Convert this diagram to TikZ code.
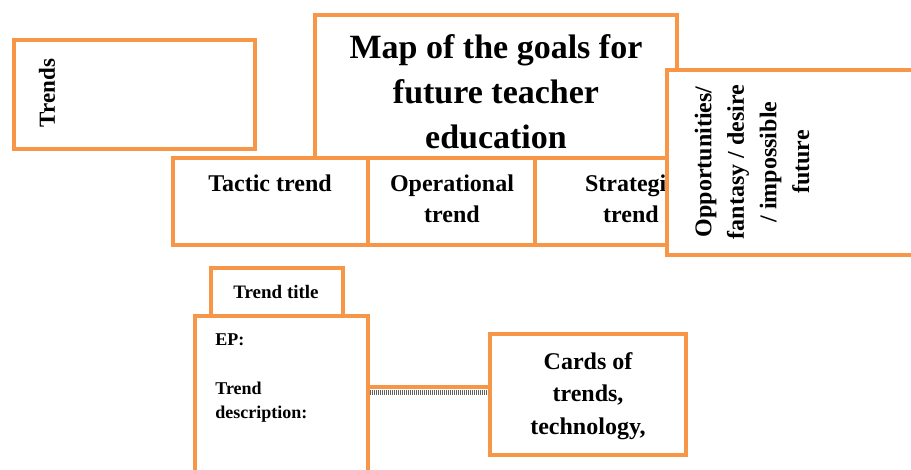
\documentclass[tikz,border=0pt]{standalone}
\usepackage{fontspec}
\setmainfont{Liberation Serif}
\definecolor{boxorange}{HTML}{F79646}

\begin{document}
\begin{tikzpicture}[x=0.5pt,y=-0.5pt,
    box/.style={draw=boxorange,line width=2pt,fill=white,inner sep=0pt},
    txt/.style={inner sep=0pt,font=\bfseries}]
  \useasboundingbox (0,0) rectangle (911,470);
  % frames
  \node[box,minimum width=120.75pt,minimum height=54.5pt] (T) at (134.25,94.5) {};
  \node[box,minimum width=181pt,minimum height=71.5pt] (M) at (496,86.5) {};
  \node[box,minimum width=97.5pt,minimum height=43.5pt] (Tac) at (270.5,201.5) {};
  \node[box,minimum width=83.5pt,minimum height=43.5pt] (Op) at (451.5,201.5) {};
  \node[box,minimum width=95pt,minimum height=43.5pt] (St) at (630,201.5) {};
  % row texts go under the right frame
  \node[txt,anchor=north,font=\bfseries\fontsize{12}{15.5}\selectfont] at (270,174) {Tactic trend};
  \node[txt,anchor=north,align=center,font=\bfseries\fontsize{12}{15.5}\selectfont] at (452,174) {
    Operational\\trend};
  \node[txt,anchor=north,align=center,font=\bfseries\fontsize{12}{15.5}\selectfont] at (631,174) {
    Strategic\\trend};
  \node[box,minimum width=146.5pt,minimum height=92.5pt] (Opp) at (813.5,162.5) {};
  \node[box,minimum width=66pt,minimum height=24pt] (TT) at (277,292) {};
  \node[box,minimum width=86.5pt,minimum height=102pt] (C) at (281.5,418) {};
  \node[box,minimum width=98pt,minimum height=60.5pt] (K) at (588,394.5) {};
  % texts
  \node[txt,rotate=90,font=\bfseries\fontsize{11.5}{14}\selectfont] at (47,93) {Trends};
  \node[txt,anchor=north,align=center,font=\bfseries\fontsize{17}{22.5}\selectfont] at (496,34) {
    Map of the goals for\\future teacher\\education};
  \node[txt,rotate=90,align=center,font=\bfseries\fontsize{12}{16.3}\selectfont] at (752,162) {
    Opportunities/\\fantasy / desire\\/ impossible\\future};
  \node[txt,anchor=north,font=\bfseries\fontsize{9.5}{12}\selectfont] at (276,285) {Trend title};
  \node[txt,anchor=north west,align=left,font=\bfseries\fontsize{9}{12.3}\selectfont] at (215,333) {
    EP:\\[12.3pt]Trend\\description:};
  \node[txt,anchor=north,align=center,font=\bfseries\fontsize{12}{16.3}\selectfont] at (588,352) {
    Cards of\\trends,\\technology,};
  % link between the card and the stack
  \coordinate (L) at (K.west -| C.east);
  \draw[boxorange,line width=2pt] ([yshift=3.5pt]L) -- ([yshift=3.5pt]K.west);
  \draw[gray!75!black,line width=2.5pt,dash pattern=on 0.6pt off 0.4pt] ([yshift=1pt]L) -- ([yshift=1pt]K.west);
\end{tikzpicture}
\end{document}
